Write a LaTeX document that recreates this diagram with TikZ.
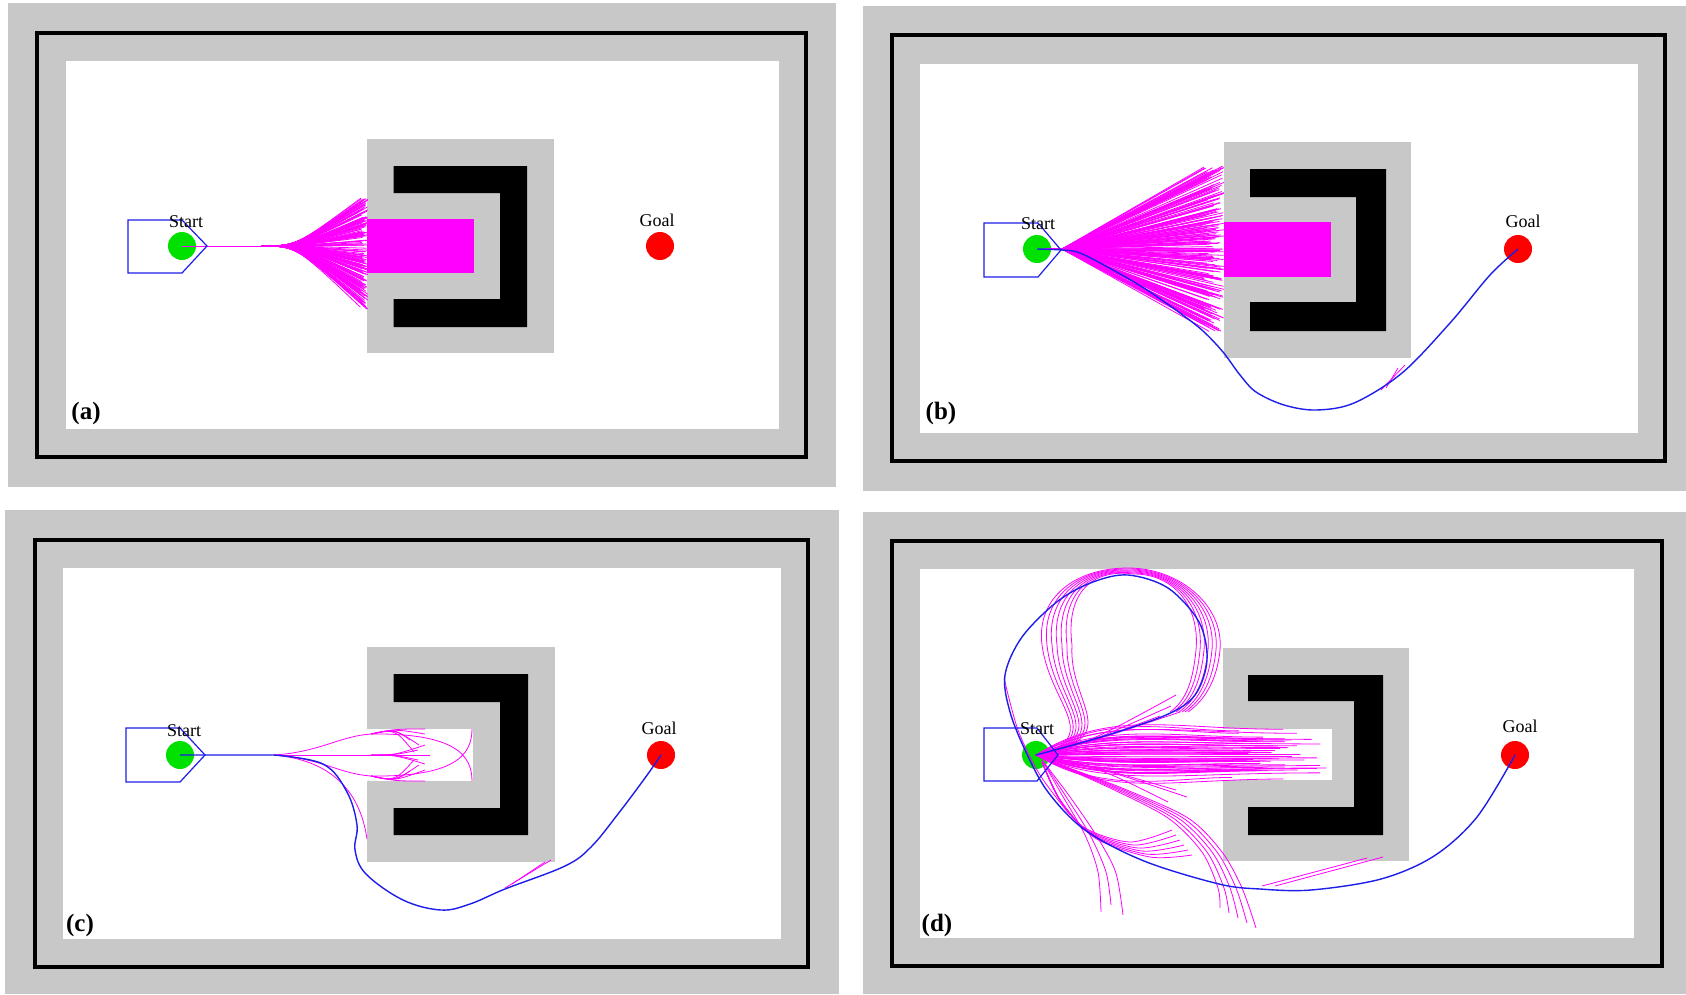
\documentclass[tikz,border=0pt]{standalone}
\usepackage{fontspec}
\setmainfont{Liberation Serif}
\definecolor{wallgray}{RGB}{200,200,200}
\definecolor{pathblue}{RGB}{30,30,235}
\definecolor{mag}{RGB}{255,0,255}
\definecolor{startgreen}{RGB}{0,225,0}
\definecolor{goalred}{RGB}{255,0,0}
\tikzset{
  wall/.style={fill=wallgray},
  framebox/.style={draw=black, line width=4},
  freespace/.style={fill=white},
  ublock/.style={fill=black},
  trajline/.style={draw=mag, line width=0.8},
  robot/.style={draw=pathblue, line width=1.2},
  bestpath/.style={draw=pathblue, line width=1.4},
  startpt/.style={circle, fill=startgreen, minimum size=28, inner sep=0},
  goalpt/.style={circle, fill=goalred, minimum size=28, inner sep=0},
  lbl/.style={font=\fontsize{18}{20}\selectfont, anchor=base, inner sep=0},
  plbl/.style={font=\bfseries\fontsize{25}{28}\selectfont, inner sep=0}
}
\begin{document}
\begin{tikzpicture}[x=1pt,y=-1pt]
\useasboundingbox (0,0) rectangle (1686,994);
\fill[white] (0,0) rectangle (1686,994);
\pgfmathsetseed{11}

% ================= Panel (a) =================
\fill[wall] (8,3) rectangle (836,487);
\draw[framebox] (37,33) rectangle (806,457);
\fill[freespace] (65.5,61) rectangle (778.5,429);
\fill[wall] (367,139) rectangle (554,353);
\fill[ublock] (393.5,166) -- (527,166) -- (527,327) -- (393.5,327) -- (393.5,299) -- (500,299) -- (500,193) -- (393.5,193) -- cycle;
\fill[mag] (367,219) rectangle (474,273);
\node[startpt] (sa) at (182,246) {};
\node[goalpt] (ga) at (660,246) {};
\draw[trajline] (sa.center) -- (261,246);
\foreach \i in {1,...,180}{
  \pgfmathsetmacro\ye{198+112*rnd}
  \pgfmathsetmacro\xe{368-8*rnd}
  \draw[trajline] (261,246) .. controls (296,246) .. (\xe,\ye);
}
\draw[robot] (182,220) -- (128,220) -- (128,273) -- (182,273) -- (207,246) -- (182,220);
\node[lbl] (tsa) at (186,227) {Start};
\node[lbl] (tga) at (657,226) {Goal};
\node[plbl] (la) at (86,413) {(a)};

% ================= Panel (b) =================
\fill[wall] (863,6) rectangle (1686,491);
\draw[framebox] (892,35) rectangle (1665,461);
\fill[freespace] (920,64) rectangle (1638,433);
\fill[wall] (1224,142) rectangle (1411,358);
\fill[ublock] (1250,169) -- (1386,169) -- (1386,331) -- (1250,331) -- (1250,302) -- (1356,302) -- (1356,197) -- (1250,197) -- cycle;
\fill[mag] (1224,222) rectangle (1331,277);
\node[startpt] (sb) at (1037,249) {};
\node[goalpt] (gb) at (1518,249) {};
\foreach \i in {1,...,220}{
  \pgfmathsetmacro\ye{166+167*rnd}
  \pgfmathsetmacro\xe{1224-20*rnd}
  \draw[trajline] (1045,249) -- (1062,249) -- (\xe,\ye);
}
\draw[trajline] (1381,390) -- (1405,365);
\draw[trajline] (1386,388) -- (1398,368);
\draw[bestpath] plot[smooth,tension=0.55] coordinates {(sb.center) (1062,250) (1080,253) (1113,270) (1147,290) (1180,313) (1203,331) (1223,352) (1240,375) (1256,392) (1284,405) (1316,410) (1354,403) (1402,373) (1450,323) (1490,275) (gb.center)};
\draw[robot] (1038,223) -- (984,223) -- (984,277) -- (1038,277) -- (1061,250) -- (1038,223);
\node[lbl] (tsb) at (1038,229) {Start};
\node[lbl] (tgb) at (1523,227) {Goal};
\node[plbl] (lb) at (941,413) {(b)};

% ================= Panel (c) =================
\fill[wall] (5,510) rectangle (839,994);
\draw[framebox] (35,540) rectangle (808,967);
\fill[freespace] (63,568) rectangle (781,939);
\fill[wall] (367,647) rectangle (555,862);
\fill[freespace] (367,729) rectangle (473,781);
\fill[ublock] (393.5,674) -- (528,674) -- (528,835) -- (393.5,835) -- (393.5,808) -- (500,808) -- (500,702) -- (393.5,702) -- cycle;
\node[startpt] (sc) at (180,755) {};
\node[goalpt] (gc) at (661,755) {};
\coordinate (cb) at (274,755);
\coordinate (cu) at (371,734);
\coordinate (cm) at (371,755);
\coordinate (cl) at (371,776);
\draw[trajline] (cb) .. controls (320,752) and (340,736) .. (cu);
\draw[trajline] (cb) -- (cm);
\draw[trajline] (cb) .. controls (320,758) and (340,774) .. (cl);
\foreach \ex/\ey in {425/729,425/734,419/745,414/752,410/740}
  \draw[trajline] (cu) .. controls (395,729) .. (\ex,\ey);
\foreach \ex/\ey in {430/755,425/745,425/764,418/750,418/760}
  \draw[trajline] (cm) .. controls (395,755) .. (\ex,\ey);
\foreach \ex/\ey in {425/781,425/770,414/760,410/771,419/765}
  \draw[trajline] (cl) .. controls (395,781) .. (\ex,\ey);
\draw[trajline] (cu) .. controls (455,733) and (472,755) .. (472,781);
\draw[trajline] (cl) .. controls (455,777) and (472,755) .. (472,729);
\draw[trajline] (cb) .. controls (330,760) and (360,790) .. (367,839);
\draw[trajline] (505,888) -- (551,860);
\draw[trajline] (512,884) -- (545,862);
\draw[bestpath] (sc.center) -- (cb) plot[smooth,tension=0.6] coordinates {(cb) (323,764) (347,792) (357,825) (355,850) (366,874) (403,900) (441,910) (470,904) (505,889) (565,866) (591,847) (618,814) (645,778) (gc.center)};
\draw[robot] (180,728) -- (126,728) -- (126,782) -- (180,782) -- (205,755) -- (180,728);
\node[lbl] (tsc) at (184,736) {Start};
\node[lbl] (tgc) at (659,734) {Goal};
\node[plbl] (lc) at (80,925) {(c)};

% ================= Panel (d) =================
\fill[wall] (863,512) rectangle (1686,994);
\draw[framebox] (892,541) rectangle (1662,966);
\fill[freespace] (920,569) rectangle (1634,938);
\fill[wall] (1223,648) rectangle (1409,861);
\fill[freespace] (1223,729) rectangle (1332,780);
\fill[ublock] (1248,675) -- (1383,675) -- (1383,835) -- (1248,835) -- (1248,807) -- (1354,807) -- (1354,701) -- (1248,701) -- cycle;
\node[startpt] (sd) at (1036,755) {};
\node[goalpt] (gd) at (1515,755) {};
% fan into the notch
\foreach \i in {1,...,55}{
  \pgfmathsetmacro\ye{728+52*rnd}
  \pgfmathsetmacro\xe{1232+100*rnd}
  \pgfmathsetmacro\yc{755+(\ye-755)*1.8}
  \draw[trajline] (sd.center) .. controls (1110,\yc) and (1170,\ye) .. (\xe,\ye);
}
% upper loops
\foreach \k in {0,...,6}{
  \draw[trajline] (sd.center) .. controls (1105+4*\k,738) and (1050+3*\k,705) .. (1042+5*\k,645)
     .. controls (1036+5*\k,598) and (1075+2*\k,568) .. (1128+\k,568+\k)
     .. controls (1180-\k,568+\k) and (1224-4*\k,606) .. (1220-4*\k,650)
     .. controls (1217-4*\k,680) and (1205-3*\k,700) .. (1188-3*\k,712);
}
\foreach \ex/\ey in {1176/695,1171/706,1180/712,1160/716}
  \draw[trajline] (sd.center) .. controls (1090,742) .. (\ex,\ey);
% lower curves
\foreach \dx/\ey in {0/912,22/915,10/905}
  \draw[trajline] plot[smooth] coordinates {(1042,760) (1062+0.3*\dx,795) (1085+0.5*\dx,835) (1098+0.8*\dx,872) (1101+\dx,\ey)};
\foreach \k in {0,...,4}
  \draw[trajline] plot[smooth] coordinates {(1042,758) (1110+3*\k,788) (1168+5*\k,818) (1202+5*\k,852) (1218+6*\k,888) (1220+9*\k,908+5*\k)};
\foreach \k in {0,...,5}
  \draw[trajline] plot[smooth] coordinates {(1042,762) (1060,800) (1085+2*\k,828+2*\k) (1130+4*\k,842+3*\k) (1172+4*\k,830+5*\k)};
\foreach \ex/\ey in {1187/797,1176/790,1168/802}
  \draw[trajline] (sd.center) .. controls (1100,768) .. (\ex,\ey);
\draw[trajline] plot[smooth] coordinates {(1004,678) (1018,730) (1040,775) (1070,815)};
\draw[trajline] (1262,886) -- (1367,858);
\draw[trajline] (1275,886) -- (1383,857);
\draw[bestpath] plot[smooth,tension=0.55] coordinates {(sd.center) (1101,737) (1166,715) (1195,695) (1207,660) (1199,622) (1168,588) (1128,575) (1093,582) (1058,601) (1022,637) (1005,675) (1010,712) (1026,752) (1048,792) (1085,830) (1144,861) (1219,884) (1260,889) (1311,890) (1381,879) (1434,856) (1477,817) (gd.center)};
\draw[robot] (1037,728) -- (984,728) -- (984,781) -- (1037,781) -- (1058,755) -- (1037,728);
\node[lbl] (tsd) at (1037,734) {Start};
\node[lbl] (tgd) at (1520,732) {Goal};
\node[plbl] (ld) at (937,925) {(d)};
\end{tikzpicture}
\end{document}
